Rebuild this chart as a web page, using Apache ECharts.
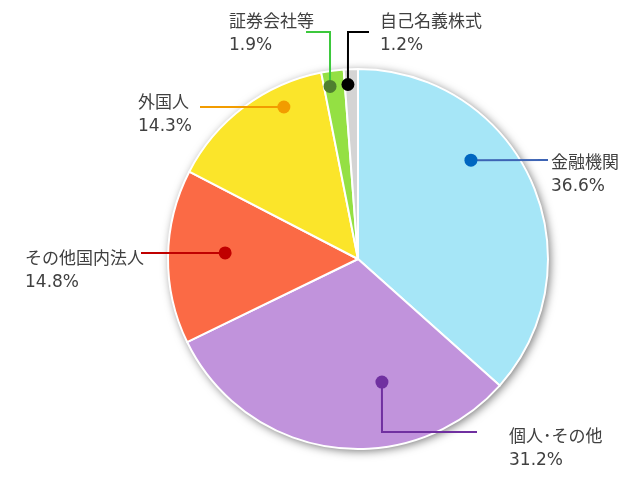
<!DOCTYPE html>
<html>
<head>
<meta charset="utf-8">
<script src="https://cdn.jsdelivr.net/npm/echarts@6/dist/echarts.min.js"></script>
<style>
  html, body { margin: 0; padding: 0; background: #fff; }
  #chart { width: 640px; height: 480px; }
</style>
</head>
<body>
<div id="chart"></div>
<script>
// 株主構成（所有者別）
const categories = ['金融機関', '個人･その他', 'その他国内法人', '外国人', '証券会社等', '自己名義株式']
const shares = [36.6, 31.2, 14.8, 14.3, 1.9, 1.2]

// 色
const sliceColors = ['#a6e6f7', '#c193dc', '#fb6a45', '#fbe52a', '#94e043', '#d4d4d4']
const lineColors = ['#3d64b4', '#7030a0', '#c00000', '#f29c00', '#3cc83c', '#000000']
const dotColors = ['#0066c0', '#7030a0', '#c00000', '#f29c00', '#4f7f2f', '#000000']

const cx = 358, cy = 259, R = 190
// ラベルの位置（角度は真上から時計回り、d は半径に対する比）
const spots = [
  { ang: 48.8, d: 0.79, pts: [[548, 160]], x: 551, y: 152 },
  { ang: 169, d: 0.66, pts: [[382, 432], [477, 432]], x: 509, y: 426 },
  { ang: 272.6, d: 0.70, pts: [[141, 253]], x: 25, y: 248 },
  { ang: 334, d: 0.89, pts: [[200, 107]], x: 138, y: 92 },
  { ang: 350.8, d: 0.92, pts: [[330, 32], [306, 32]], x: 229, y: 11 },
  { ang: 356.7, d: 0.92, pts: [[348, 32], [369, 32]], x: 380, y: 11 }
]
function anchor(i) {
  let s = spots[i]
  let a = s.ang * Math.PI / 180
  return [cx + s.d * R * Math.sin(a), cy - s.d * R * Math.cos(a)]
}

let total = shares.reduce((a, b) => a + b, 0)
let pieData = categories.map((c, i) => ({ name: c, value: shares[i] }))

let myChart = echarts.init(document.getElementById('chart'))
myChart.setOption({
  animation: false,
  series: [{
    // 影用
    type: 'pie',
    silent: true,
    center: [cx, cy],
    radius: R,
    label: { show: false },
    labelLine: { show: false },
    itemStyle: { color: '#fff', shadowBlur: 10, shadowColor: 'rgba(0,0,0,0.55)', shadowOffsetX: 2, shadowOffsetY: 2 },
    data: [{ value: total, name: 'all' }]
  }, {
    // 扇形
    type: 'pie',
    center: [cx, cy],
    radius: R,
    startAngle: 90,
    clockwise: true,
    label: { show: false },
    labelLine: { show: false },
    itemStyle: { borderColor: '#fff', borderWidth: 2 },
    data: pieData.map((d, i) => Object.assign({ itemStyle: { color: sliceColors[i] } }, d))
  }, {
    // ラベルと引き出し線（扇形の上に描く）
    type: 'pie',
    z: 5,
    silent: true,
    center: [cx, cy],
    radius: R,
    startAngle: 90,
    clockwise: true,
    avoidLabelOverlap: false,
    itemStyle: { color: 'rgba(0,0,0,0)', borderWidth: 0 },
    label: {
      show: true,
      formatter: '{b}\n{c}%',
      fontFamily: 'DejaVu Sans, Noto Sans CJK JP',
      fontSize: 17,
      lineHeight: 23,
      color: '#404040',
      align: 'left'
    },
    labelLine: { show: true, smooth: false, lineStyle: { width: 2 } },
    labelLayout: function (params) {
      let i = params.dataIndex
      let s = spots[i]
      return {
        x: s.x,
        y: s.y,
        align: 'left',
        verticalAlign: 'top',
        labelLinePoints: [anchor(i)].concat(s.pts)
      }
    },
    data: pieData.map((d, i) => Object.assign({ labelLine: { lineStyle: { color: lineColors[i], width: 2 } } }, d))
  }],
  graphic: categories.map((c, i) => {
    let p = anchor(i)
    return {
      type: 'circle',
      shape: { cx: p[0], cy: p[1], r: 6.5 },
      style: { fill: dotColors[i] },
      z: 100
    }
  })
})
</script>
</body>
</html>
